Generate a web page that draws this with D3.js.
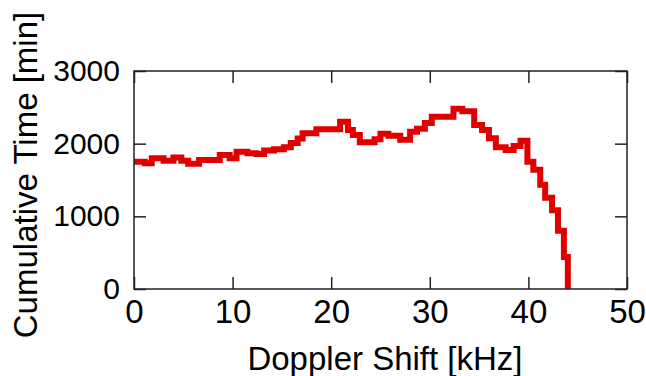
<!DOCTYPE html>
<html>
<head>
<meta charset="utf-8">
<script src="https://cdn.jsdelivr.net/npm/d3@7"></script>
<style>
  body { margin: 0; background: #fff; }
  text { font-family: "Liberation Sans", Arial, Helvetica, sans-serif; fill: #000; }
</style>
</head>
<body>
<svg id="chart" width="646" height="376"></svg>
<script>
// step edges [kHz] and cumulative time [min] for each step
const freqEdges = [0, 1.1, 1.8, 3.0, 4.0, 4.8, 5.5, 6.6, 8.7, 9.7, 10.4, 11.5, 12.4, 13.2, 14.2, 15.2, 15.9, 16.6, 17.1,
  18.5, 20.9, 21.7, 22.2, 22.9, 24.4, 25.0, 25.8, 27.0, 28.0, 28.7, 29.5, 30.2, 32.4, 33.3, 34.5, 35.3, 36.0,
  36.7, 37.7, 38.5, 39.2, 39.9, 40.5, 41.2, 41.7, 42.4, 43.0, 43.6, 44.0];
const cumTime = [1750, 1730, 1800, 1765, 1810, 1765, 1725, 1775, 1844, 1798, 1890, 1867, 1858, 1905, 1922, 1950, 2010, 2070, 2142,
  2197, 2300, 2188, 2119, 2020, 2060, 2135, 2110, 2055, 2165, 2205, 2285, 2370, 2480, 2445, 2257, 2188, 2074,
  1950, 1913, 1968, 2040, 1750, 1640, 1435, 1255, 1085, 800, 440, 0];

const xTicks = [0, 10, 20, 30, 40, 50];
const yTicks = [0, 1000, 2000, 3000];

const margin = {top: 71, right: 19, bottom: 87, left: 134};
const width = 646 - margin.left - margin.right;
const height = 376 - margin.top - margin.bottom;

const svg = d3.select('#chart');
const g = svg.append('g')
    .attr('transform', `translate(${margin.left},${margin.top})`);

const x = d3.scaleLinear().domain([0, 50]).range([0, width]);
const y = d3.scaleLinear().domain([0, 3000]).range([height, 0]);

const tickLen = 12;

// data line (step)
const points = freqEdges.map((f, i) => [f, cumTime[i]]);
const line = d3.line()
    .x(d => x(d[0]))
    .y(d => y(d[1]))
    .curve(d3.curveStepAfter);

g.append('path')
    .datum(points)
    .attr('fill', 'none')
    .attr('stroke', '#e00000')
    .attr('stroke-width', 6)
    .attr('d', line);

// axes with inward ticks
const styleAxis = size => sel => {
  sel.select('.domain').remove();
  sel.selectAll('.tick line').attr('stroke', '#222').attr('stroke-width', 1.5);
  sel.selectAll('text').attr('font-size', size).style('font-family', '"Liberation Sans", Arial, sans-serif');
};

g.append('g')
    .attr('transform', `translate(0,${height})`)
    .call(d3.axisBottom(x).tickValues(xTicks).tickSize(-tickLen).tickPadding(11).tickFormat(d3.format('d')))
    .call(styleAxis(33));

g.append('g')
    .call(d3.axisTop(x).tickValues(xTicks).tickSize(-tickLen).tickFormat(''))
    .call(styleAxis(33));

g.append('g')
    .call(d3.axisLeft(y).tickValues(yTicks).tickSize(-tickLen).tickPadding(14).tickFormat(d3.format('d')))
    .call(styleAxis(30));

g.append('g')
    .attr('transform', `translate(${width},0)`)
    .call(d3.axisRight(y).tickValues(yTicks).tickSize(-tickLen).tickFormat(''))
    .call(styleAxis(30));

// frame
g.append('rect')
    .attr('width', width)
    .attr('height', height)
    .attr('fill', 'none')
    .attr('stroke', '#222')
    .attr('stroke-width', 1.5);

// axis titles
svg.append('text')
    .attr('x', 385)
    .attr('y', 370)
    .attr('text-anchor', 'middle')
    .attr('font-size', 33)
    .text('Doppler Shift [kHz]');

svg.append('text')
    .attr('transform', `translate(37,175) rotate(-90)`)
    .attr('text-anchor', 'middle')
    .attr('font-size', 33)
    .text('Cumulative Time [min]');
</script>
</body>
</html>
